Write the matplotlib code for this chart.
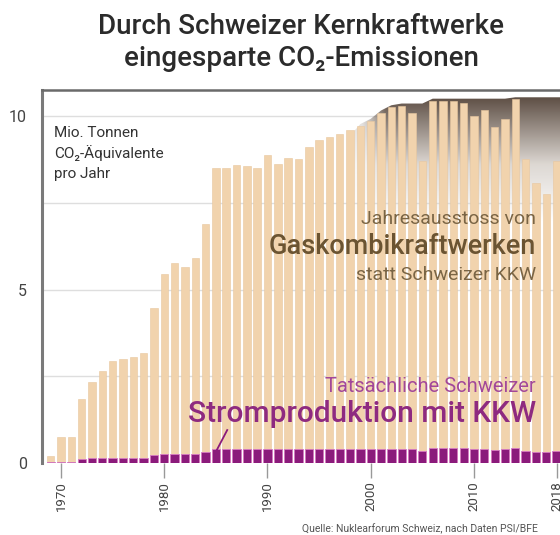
import numpy as np
import matplotlib
matplotlib.use("Agg")
import matplotlib.pyplot as plt
from matplotlib.patches import Polygon

plt.rcParams['font.family'] = ['Roboto', 'DejaVu Sans']

# Daten (Mio. Tonnen CO2-Aequivalente pro Jahr)
years = np.arange(1969, 2019)
gas = [0.20, 0.75, 0.75, 1.84, 2.33, 2.65, 2.94, 3.00, 3.06, 3.17,
       4.47, 5.45, 5.76, 5.66, 5.90, 6.90, 8.49, 8.49, 8.59, 8.56,
       8.51, 8.87, 8.63, 8.80, 8.75, 9.11, 9.30, 9.40, 9.47, 9.60,
       9.71, 9.86, 10.10, 10.25, 10.30, 10.10, 8.70, 10.44, 10.44, 10.42,
       10.38, 10.00, 10.17, 9.67, 9.90, 10.48, 8.75, 8.08, 7.74, 8.70]
kkw = [0.03, 0.04, 0.04, 0.12, 0.13, 0.13, 0.13, 0.13, 0.13, 0.14,
       0.24, 0.25, 0.25, 0.25, 0.26, 0.33, 0.40, 0.40, 0.40, 0.40,
       0.39, 0.40, 0.39, 0.39, 0.39, 0.40, 0.40, 0.40, 0.40, 0.40,
       0.40, 0.40, 0.40, 0.41, 0.41, 0.40, 0.34, 0.43, 0.43, 0.43,
       0.42, 0.40, 0.41, 0.38, 0.39, 0.44, 0.34, 0.33, 0.32, 0.35]
xticks = [1970, 1980, 1990, 2000, 2010, 2018]
yticks = [0, 5, 10]

W, H = 560, 535
fig = plt.figure(figsize=(W / 100, H / 100), dpi=100)
fig.patch.set_facecolor('white')

def fx(px):
    return px / W

def fy(py):
    return 1 - py / H

ax = fig.add_axes([fx(42), fy(463), 1 - fx(42), fy(90) - fy(463)])
ax.set_xlim(1968.16, 2018.33)
ax.set_ylim(0, 10.75)

# Gitterlinien
for g in [2.5, 5, 7.5, 10]:
    ax.axhline(g, color='#dedede', lw=1, zorder=0.5)

# dunkler Verlauf hinter den Balken (Umhuellende der Balken)
g_arr = np.array(gas)
env_x = years[years >= 1999]
env_y = np.maximum.accumulate(g_arr[years >= 1999]) + 0.06
px_ = np.concatenate([[1998.4], env_x, [2018.4, 2018.4, 1998.4]])
py_ = np.concatenate([[env_y[0] - 0.2], env_y, [env_y[-1], 0, 0]])
clip = Polygon(np.column_stack([px_, py_]), closed=True, transform=ax.transData,
               facecolor='none', edgecolor='none')
ax.add_patch(clip)
ny, nx = 200, 200
yy = np.linspace(10.6, 6.5, ny)[:, None]
xx = np.linspace(1998.4, 2018.4, nx)[None, :]
t = np.clip((10.55 - yy) / 3.6, 0, 1)
dark = np.array([0.36, 0.30, 0.26])
light = np.array([0.87, 0.85, 0.83])
mix = np.clip(t / 0.55, 0, 1)[..., None]
img = np.zeros((ny, nx, 4))
img[..., :3] = dark * (1 - mix) + light * mix
alpha = np.clip((1 - t) / 0.45, 0, 1) * np.clip((xx - 1998.4) / 3.0, 0.25, 1)
img[..., 3] = alpha
im = ax.imshow(img, extent=[1998.4, 2018.4, 6.5, 10.6], origin='upper',
               aspect='auto', zorder=1, interpolation='bilinear')
im.set_clip_path(clip)

ax.bar(years, gas, width=0.72, color='#f1d3ad', edgecolor='#e8c79f',
       linewidth=0.4, zorder=2)
ax.bar(years, kkw, width=0.8, color='#8b1b7b', edgecolor='#d77ac3',
       linewidth=0.6, zorder=3)

# Hinweislinie
ax.plot([1986.1, 1985.1], [0.95, 0.38], color='#8b1b7b', lw=1.3, zorder=4)

ax.set_xticks(xticks)
ax.set_xticklabels([str(v) for v in xticks], rotation=90, fontsize=9.5,
                   color='#444444')
ax.tick_params(axis='x', length=11, width=1, color='#999999', pad=2)
ax.set_yticks(yticks)
ax.set_yticklabels([str(v) for v in yticks], fontsize=11.5, color='#444444')
ax.tick_params(axis='y', length=0, pad=11)

for s in ['right', 'bottom']:
    ax.spines[s].set_visible(False)
ax.spines['left'].set_color('#7a7a7a')
ax.spines['left'].set_linewidth(2.2)
ax.spines['top'].set_color('#6a6a6a')
ax.spines['top'].set_linewidth(1.8)
ax.set_facecolor('white')

# Texte
fig.text(fx(301), fy(26), 'Durch Schweizer Kernkraftwerke', ha='center',
         va='center', fontsize=20, fontweight='medium', color='#2b2b2b')
fig.text(fx(301), fy(58), 'eingesparte CO₂-Emissionen', ha='center',
         va='center', fontsize=20, fontweight='medium', color='#2b2b2b')

for i, s in enumerate(['Mio. Tonnen', 'CO₂-Äquivalente', 'pro Jahr']):
    fig.text(fx(54), fy(133 + 20.5 * i), s, ha='left', va='center',
             fontsize=11, color='#333333')

fig.text(fx(536), fy(219), 'Jahresausstoss von', ha='right', va='center',
         fontsize=14, color='#7a6545')
fig.text(fx(536), fy(246), 'Gaskombikraftwerken', ha='right', va='center',
         fontsize=19.5, fontweight='medium', color='#6b5432')
fig.text(fx(536), fy(275), 'statt Schweizer KKW', ha='right', va='center',
         fontsize=14, color='#7a6545')

fig.text(fx(536), fy(386), 'Tatsächliche Schweizer', ha='right', va='center',
         fontsize=14.5, color='#a2479a')
fig.text(fx(536), fy(414), 'Stromproduktion mit KKW', ha='right', va='center',
         fontsize=21.5, fontweight='medium', color='#8e2a80')

fig.text(fx(302), fy(529), 'Quelle: Nuklearforum Schweiz, nach Daten PSI/BFE',
         ha='left', va='center', fontsize=7.5, color='#555555')

fig.savefig('out.png', dpi=100)
